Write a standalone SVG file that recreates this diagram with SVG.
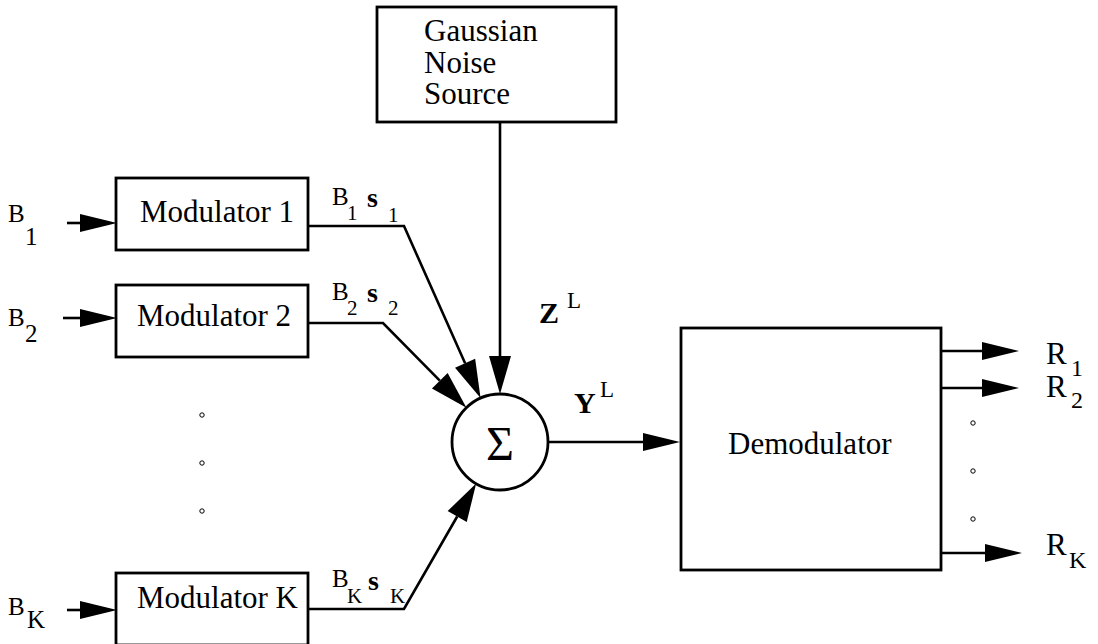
<svg xmlns="http://www.w3.org/2000/svg" width="1098" height="644" viewBox="0 0 1098 644">
<style>
.box{fill:#fff;stroke:#000;stroke-width:2.8}
.ln{fill:none;stroke:#000;stroke-width:2.6}
text{font-family:'Liberation Serif','Times New Roman','DejaVu Serif',serif;fill:#000}
.lbl{font-size:31px}
.sm{font-size:25px}
.sub{font-size:21px}
.b{font-weight:bold}
.dot{fill:#fff;stroke:#000;stroke-width:1}
</style>
<defs>
<marker id="big" markerUnits="userSpaceOnUse" markerWidth="40" markerHeight="24" refX="0" refY="11" orient="auto" overflow="visible">
<path d="M0,0 L38,11 L0,22 Z" fill="#000"/>
</marker>
<marker id="sml" markerUnits="userSpaceOnUse" markerWidth="40" markerHeight="20" refX="0" refY="9" orient="auto" overflow="visible">
<path d="M0,0 L37,9 L0,18 Z" fill="#000"/>
</marker>
</defs>
<g id="connectors">
<polyline class="ln" points="67,223 80,223" marker-end="url(#sml)"/>
<polyline class="ln" points="63,318 80,318" marker-end="url(#sml)"/>
<polyline class="ln" points="67,610 80,610" marker-end="url(#sml)"/>
<polyline class="ln" points="308,226 404,226 465.1,363.3" marker-end="url(#big)"/>
<polyline class="ln" points="308,323 383,323 439.8,380.7" marker-end="url(#big)"/>
<polyline class="ln" points="308,609 404,609 457.2,516.5" marker-end="url(#big)"/>
<polyline class="ln" points="500,122 500,356" marker-end="url(#big)"/>
<polyline class="ln" points="548,442 643,442" marker-end="url(#sml)"/>
<polyline class="ln" points="941,351 982,351" marker-end="url(#sml)"/>
<polyline class="ln" points="941,388 982,388" marker-end="url(#sml)"/>
<polyline class="ln" points="941,553 985,553" marker-end="url(#sml)"/>
</g>
<g id="noise">
<rect class="box" x="377" y="7" width="239" height="115"/>
<text class="lbl" x="424" y="41">Gaussian</text>
<text class="lbl" x="424" y="73">Noise</text>
<text class="lbl" x="424" y="104">Source</text>
</g>
<g id="mod1">
<rect class="box" x="116" y="178" width="192" height="72"/>
<text class="lbl" x="140" y="222">Modulator 1</text>
</g>
<g id="mod2">
<rect class="box" x="116" y="285" width="192" height="72"/>
<text class="lbl" x="137" y="326">Modulator 2</text>
</g>
<g id="modK">
<rect class="box" x="116" y="573" width="192" height="72"/>
<text class="lbl" x="137" y="608">Modulator K</text>
</g>
<g id="sum">
<circle class="box" cx="500" cy="442" r="48" stroke-width="2.5"/>
<text x="500" y="460" font-size="48" text-anchor="middle">Σ</text>
</g>
<g id="demod">
<rect class="box" x="681" y="328" width="260" height="242"/>
<text class="lbl" x="728" y="454">Demodulator</text>
</g>
<g id="inputs">
<text class="sm" x="8" y="222">B</text><text class="sm" x="25" y="245">1</text>
<text class="sm" x="8" y="326">B</text><text class="sm" x="25" y="342">2</text>
<text class="sm" x="8" y="615">B</text><text class="sm" x="27" y="628">K</text>
</g>
<g id="signals">
<text class="sm" x="332" y="205">B</text><text class="sub" x="347" y="220">1</text>
<text class="b" font-size="28" x="367" y="207">s</text><text class="sub" x="388" y="222">1</text>
<text class="sm" x="332" y="300">B</text><text class="sub" x="347" y="315">2</text>
<text class="b" font-size="28" x="367" y="302">s</text><text class="sub" x="388" y="315">2</text>
<text class="sm" x="332" y="587">B</text><text class="sub" x="347" y="603">K</text>
<text class="b" font-size="28" x="368" y="590">s</text><text class="sub" x="390" y="603">K</text>
<text class="b" font-size="30" x="539" y="323">Z</text><text font-size="23" x="567" y="308">L</text>
<text class="b" font-size="30" x="574" y="413">Y</text><text font-size="23" x="600" y="397">L</text>
</g>
<g id="outputs">
<text font-size="31" x="1046" y="364">R</text><text font-size="24" x="1071" y="376">1</text>
<text font-size="31" x="1046" y="397">R</text><text font-size="24" x="1071" y="408">2</text>
<text font-size="31" x="1046" y="555">R</text><text font-size="24" x="1069" y="568">K</text>
</g>
<g id="ellipsis">
<circle class="dot" cx="202" cy="415" r="2.2"/>
<circle class="dot" cx="202" cy="463" r="2.2"/>
<circle class="dot" cx="202" cy="511" r="2.2"/>
<circle class="dot" cx="973" cy="423" r="2.2"/>
<circle class="dot" cx="973" cy="471" r="2.2"/>
<circle class="dot" cx="973" cy="519" r="2.2"/>
</g>
</svg>
